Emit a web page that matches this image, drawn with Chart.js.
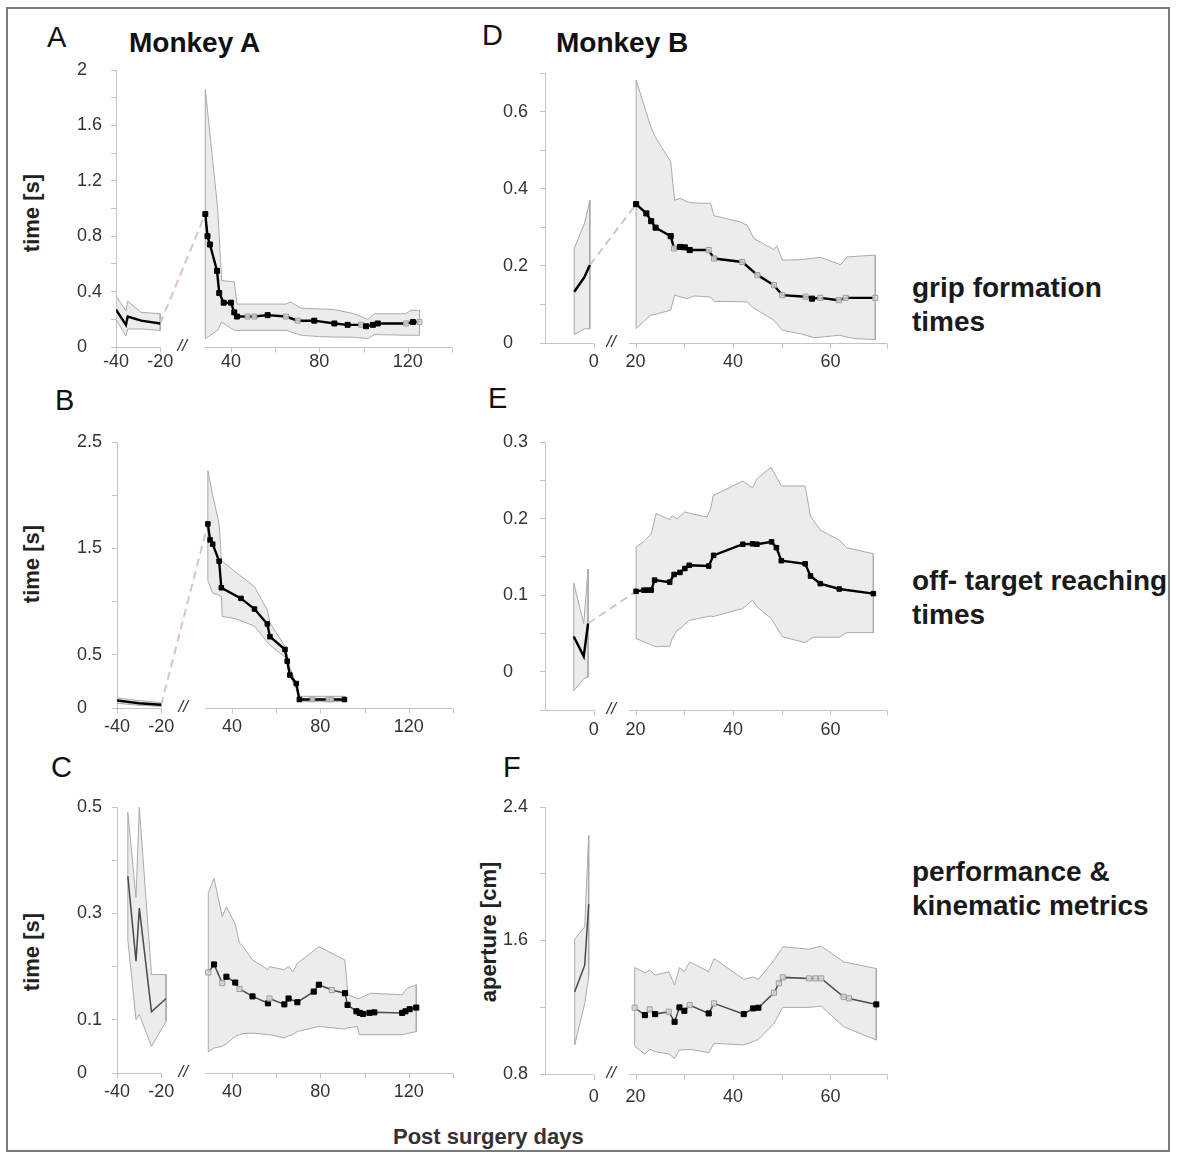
<!DOCTYPE html>
<html>
<head>
<meta charset="utf-8">
<title>Monkey A / Monkey B recovery metrics</title>
<script src="https://cdn.jsdelivr.net/npm/chart.js"></script>
<style>
  html, body { margin: 0; padding: 0; background: #fff; }
  #fig { position: relative; width: 1177px; height: 1156px; overflow: hidden; font-family: "Liberation Sans", Arial, sans-serif; }
  #frame { position: absolute; left: 6px; top: 7px; width: 1160px; height: 1141px; border: 2px solid #7a7a7a; }
  canvas { position: absolute; }
  .txt { position: absolute; white-space: nowrap; line-height: 1; color: #111; }
  .letter { font-size: 29px; }
  .monkey { font-size: 28px; font-weight: bold; }
  .metric { font-size: 28px; font-weight: bold; line-height: 34px; color: #1a1a1a; }
  .ytitle { font-size: 22px; font-weight: bold; color: #222; transform: translate(-50%, -50%) rotate(-90deg); }
  .xtitle { font-size: 22px; font-weight: bold; color: #333; }
</style>
</head>
<body>
<div id="fig">
  <div id="frame"></div>
  <div class="txt letter" style="left:47px; top:23px;">A</div>
  <div class="txt monkey" style="left:129px; top:29px;">Monkey A</div>
  <div class="txt letter" style="left:55px; top:386px;">B</div>
  <div class="txt letter" style="left:51px; top:753px;">C</div>
  <div class="txt letter" style="left:482px; top:21px;">D</div>
  <div class="txt monkey" style="left:556px; top:29px;">Monkey B</div>
  <div class="txt letter" style="left:488px; top:384px;">E</div>
  <div class="txt letter" style="left:503px; top:753px;">F</div>

  <div class="txt metric" style="left:912px; top:271px;">grip formation<br>times</div>
  <div class="txt metric" style="left:912px; top:564px;">off- target reaching<br>times</div>
  <div class="txt metric" style="left:912px; top:855px;">performance &amp;<br>kinematic metrics</div>

  <div class="txt ytitle" style="left:32px; top:213px;">time [s]</div>
  <div class="txt ytitle" style="left:32px; top:564px;">time [s]</div>
  <div class="txt ytitle" style="left:32px; top:952px;">time [s]</div>
  <div class="txt ytitle" style="left:489px; top:932px;">aperture [cm]</div>

  <div class="txt xtitle" style="left:393px; top:1126px;">Post surgery days</div>
</div>

<script>
// ---- axis ticks ----
const monkeyATicks = [-40, -20, 40, 60, 80, 100, 120, 140];
const monkeyALabels = [-40, -20, 40, 80, 120];
const monkeyBTicks = [0, 20, 30, 40, 50, 60, 71.6];
const monkeyBLabels = [0, 20, 40, 60];

const aYTicks = [0, 0.2, 0.4, 0.6, 0.8, 1, 1.2, 1.4, 1.6, 1.8, 2];
const aYLabels = [0, 0.4, 0.8, 1.2, 1.6, 2];
const bYTicks = [0, 0.5, 1, 1.5, 2, 2.5];
const bYLabels = [0, 0.5, 1.5, 2.5];
const cYTicks = [0, 0.1, 0.2, 0.3, 0.4, 0.5];
const cYLabels = [0, 0.1, 0.3, 0.5];
const dYTicks = [0, 0.1, 0.2, 0.3, 0.4, 0.5, 0.6, 0.7];
const dYLabels = [0, 0.2, 0.4, 0.6];
const eYTicks = [-0.05, 0, 0.05, 0.1, 0.15, 0.2, 0.25, 0.3];
const eYLabels = [0, 0.1, 0.2, 0.3];
const fYTicks = [0.8, 1.2, 1.6, 2, 2.4];
const fYLabels = [0.8, 1.6, 2.4];

// ---- A: grip formation times, monkey A ----
const aPreDays = [-40, -35.5, -34.7, -28.6, -20];
const aPreMean = [0.27, 0.16, 0.22, 0.19, 0.17];
const aPreHi = [0.37, 0.26, 0.33, 0.25, 0.24];
const aPreLo = [0.20, 0.08, 0.13, 0.13, 0.12];
const aPostDays = [28.4, 29.4, 30.5, 33.7, 34.7, 36.7, 40, 41.5, 42.7, 47.5, 50.6, 56.6, 64.9, 70.2, 77.7, 86.8, 92.8, 98.9, 101.1, 104.2, 106.4, 119.2, 122.3, 125.3];
const aPostMean = [0.96, 0.80, 0.74, 0.55, 0.39, 0.32, 0.32, 0.25, 0.22, 0.22, 0.22, 0.23, 0.22, 0.19, 0.19, 0.17, 0.16, 0.16, 0.15, 0.16, 0.17, 0.17, 0.18, 0.18];
const aPostSig = [1, 1, 1, 1, 1, 1, 1, 1, 1, 0, 0, 1, 0, 0, 1, 1, 1, 0, 1, 1, 1, 0, 1, 0];
const aBandDays = [28.4, 34.0, 35.8, 41.5, 42.7, 50, 56.6, 64.9, 67, 71.7, 80, 86.8, 95.8, 101.9, 104.9, 119, 121.5, 125.3];
const aBandHi = [1.86, 1.00, 0.48, 0.47, 0.31, 0.31, 0.31, 0.31, 0.325, 0.28, 0.275, 0.27, 0.24, 0.20, 0.24, 0.24, 0.265, 0.265];
const aBandLo = [0.06, 0.12, 0.18, 0.12, 0.12, 0.12, 0.12, 0.12, 0.11, 0.085, 0.075, 0.072, 0.07, 0.06, 0.09, 0.085, 0.085, 0.085];

// ---- B: off-target reaching times, monkey A ----
const bPreDays = [-40, -30, -20];
const bPreMean = [0.07, 0.045, 0.03];
const bPreHi = [0.095, 0.07, 0.05];
const bPreLo = [0.045, 0.025, 0.015];
const bPostDays = [29.1, 30.1, 31.3, 34.2, 35.2, 44.1, 50.2, 56.0, 57.2, 64.0, 65.0, 66.2, 69.1, 70.5, 76.4, 83.6, 85.0, 90.9];
const bPostMean = [1.73, 1.58, 1.54, 1.38, 1.13, 1.03, 0.93, 0.79, 0.67, 0.55, 0.44, 0.31, 0.23, 0.08, 0.08, 0.08, 0.08, 0.08];
const bPostSig = [1, 1, 1, 1, 1, 1, 1, 1, 1, 1, 1, 1, 1, 1, 0, 0, 0, 1];
const bBandDays = [29.1, 31.3, 34.2, 35.2, 35.6, 41.5, 50.2, 56, 57.2, 64, 65, 66.2, 69.1, 70.5, 90.9];
const bBandHi = [2.23, 2.0, 1.73, 1.39, 1.38, 1.28, 1.14, 0.92, 0.80, 0.58, 0.50, 0.38, 0.23, 0.11, 0.11];
const bBandLo = [1.20, 1.08, 1.06, 1.05, 0.86, 0.84, 0.77, 0.62, 0.59, 0.48, 0.42, 0.30, 0.18, 0.06, 0.06];

// ---- C: performance time, monkey A ----
const cPreDays = [-35.1, -31.4, -29.9, -24.4, -17.8];
const cPreMean = [0.37, 0.21, 0.31, 0.115, 0.14];
const cPreHi = [0.49, 0.33, 0.50, 0.185, 0.185];
const cPreLo = [0.25, 0.10, 0.11, 0.05, 0.097];
const cPostDays = [29.3, 31.9, 35.6, 37.5, 41.5, 43.4, 49.3, 56.3, 57.0, 63.7, 65.6, 69.6, 77.0, 79.3, 85.2, 91.1, 92.3, 96.3, 97.8, 99.3, 102.2, 104.4, 117.0, 118.5, 120.4, 123.4];
const cPostMean = [0.189, 0.204, 0.169, 0.181, 0.170, 0.158, 0.144, 0.131, 0.140, 0.129, 0.140, 0.133, 0.153, 0.166, 0.156, 0.150, 0.128, 0.116, 0.113, 0.111, 0.113, 0.114, 0.113, 0.116, 0.120, 0.123];
const cPostSig = [0, 1, 0, 1, 1, 0, 1, 1, 0, 1, 1, 1, 1, 1, 0, 1, 1, 1, 1, 1, 1, 1, 1, 1, 1, 1];
const cBandDays = [29.3, 31.9, 35.6, 37.5, 41.5, 43.4, 45, 49.3, 56.3, 57.0, 63.7, 65.6, 67.5, 69.6, 79.3, 91.1, 92.5, 96.8, 97.5, 102.8, 117.0, 119.2, 123.4];
const cBandHi = [0.338, 0.366, 0.294, 0.3125, 0.28, 0.244, 0.238, 0.2125, 0.194, 0.2, 0.194, 0.201, 0.19, 0.206, 0.2375, 0.2125, 0.147, 0.14, 0.14, 0.15, 0.147, 0.159, 0.166];
const cBandLo = [0.04, 0.047, 0.05, 0.055, 0.069, 0.072, 0.074, 0.075, 0.072, 0.072, 0.066, 0.07, 0.072, 0.078, 0.0875, 0.0825, 0.085, 0.0875, 0.072, 0.072, 0.072, 0.074, 0.078];

// ---- D: grip formation times, monkey B ----
const dPreDays = [-4.0, -1.9, -0.8];
const dPreMean = [0.133, 0.171, 0.202];
const dPreHi = [0.245, 0.31, 0.37];
const dPreLo = [0.022, 0.037, 0.037];
const dPostDays = [20.1, 22.2, 23.2, 24.1, 27.2, 27.9, 29.1, 30.1, 31.1, 35.0, 36.1, 41.9, 45.0, 48.4, 50.1, 54.9, 56.2, 57.9, 61.7, 63.1, 69.2];
const dPostMean = [0.36, 0.336, 0.316, 0.299, 0.277, 0.245, 0.249, 0.248, 0.241, 0.241, 0.219, 0.21, 0.176, 0.15, 0.124, 0.12, 0.115, 0.117, 0.111, 0.117, 0.117];
const dPostSig = [1, 1, 1, 1, 1, 0, 1, 1, 1, 0, 0, 0, 0, 0, 0, 0, 1, 0, 0, 0, 0];
const dBandDays = [20.1, 23.1, 24.0, 27.2, 28.0, 29.1, 30.6, 32.0, 35.4, 36.1, 41.5, 42.9, 44.3, 45.6, 48.4, 49.0, 50.1, 53.8, 56.6, 57.9, 61.7, 62.0, 63.4, 65.5, 69.2];
const dBandHi = [0.682, 0.561, 0.535, 0.47, 0.37, 0.375, 0.366, 0.363, 0.362, 0.33, 0.314, 0.305, 0.27, 0.262, 0.242, 0.252, 0.215, 0.216, 0.22, 0.222, 0.205, 0.202, 0.223, 0.225, 0.228];
const dBandLo = [0.037, 0.072, 0.074, 0.085, 0.124, 0.12, 0.115, 0.122, 0.119, 0.108, 0.107, 0.1065, 0.09, 0.08, 0.059, 0.05, 0.033, 0.024, 0.014, 0.015, 0.02, 0.02, 0.015, 0.011, 0.009];

// ---- E: off-target reaching times, monkey B ----
const ePreDays = [-4.1, -2.05, -1.16];
const ePreMean = [0.046, 0.02, 0.063];
const ePreHi = [0.116, 0.063, 0.134];
const ePreLo = [-0.025, -0.009, -0.007];
const ePostDays = [20.1, 21.7, 22.4, 23.2, 23.9, 27.0, 27.9, 29.1, 30.1, 31.0, 35.0, 36.0, 42.0, 44.0, 44.9, 47.9, 48.9, 49.9, 54.8, 55.9, 57.9, 61.8, 68.8];
const ePostMean = [0.105, 0.1065, 0.1065, 0.1065, 0.1196, 0.117, 0.127, 0.1296, 0.1348, 0.139, 0.138, 0.152, 0.1665, 0.167, 0.1665, 0.1696, 0.162, 0.145, 0.141, 0.125, 0.115, 0.108, 0.102];
const ePostSig = [1, 1, 1, 1, 1, 1, 1, 1, 1, 1, 1, 1, 1, 1, 1, 1, 1, 1, 1, 1, 1, 1, 1];
const eBandDays = [20.1, 21.7, 23.2, 24.2, 27.0, 27.5, 28.5, 29.5, 30.1, 31.0, 34.7, 35.5, 35.9, 42.0, 44.0, 44.9, 47.8, 49.9, 50.1, 54.8, 55.9, 56.6, 57.9, 61.8, 63.3, 68.8];
const eBandHi = [0.163, 0.17, 0.18, 0.2065, 0.1987, 0.204, 0.2, 0.205, 0.2087, 0.207, 0.202, 0.215, 0.23, 0.249, 0.24, 0.252, 0.267, 0.2426, 0.2426, 0.2426, 0.203, 0.197, 0.185, 0.172, 0.162, 0.154];
const eBandLo = [0.0435, 0.039, 0.035, 0.0326, 0.0335, 0.043, 0.054, 0.058, 0.062, 0.067, 0.072, 0.0726, 0.072, 0.0826, 0.0935, 0.085, 0.0696, 0.048, 0.0457, 0.038, 0.043, 0.045, 0.045, 0.045, 0.051, 0.051];

// ---- F: grip aperture, monkey B ----
const fPreDays = [-3.9, -1.85, -1.03];
const fPreMean = [1.293, 1.452, 1.818];
const fPreHi = [1.608, 1.682, 2.23];
const fPreLo = [0.974, 1.223, 1.383];
const fPostDays = [19.8, 21.9, 22.9, 24.0, 26.8, 28.0, 29.0, 30.0, 31.1, 35.0, 36.1, 42.2, 44.1, 45.2, 48.4, 49.4, 50.2, 55.6, 56.9, 58.1, 62.7, 63.8, 69.4];
const fPostMean = [1.197, 1.153, 1.187, 1.159, 1.173, 1.113, 1.199, 1.179, 1.213, 1.163, 1.223, 1.159, 1.193, 1.197, 1.287, 1.343, 1.379, 1.373, 1.373, 1.373, 1.263, 1.253, 1.217];
const fPostSig = [0, 1, 0, 1, 0, 1, 1, 1, 0, 1, 0, 1, 1, 1, 0, 0, 0, 0, 0, 0, 0, 0, 1];
const fBandDays = [19.8, 21.9, 22.9, 24.0, 26.8, 28.0, 29.0, 30.0, 31.1, 35.0, 36.1, 42.2, 44.1, 45.2, 48.4, 50.2, 55.6, 58.1, 62.7, 69.4];
const fBandHi = [1.438, 1.406, 1.422, 1.393, 1.413, 1.333, 1.438, 1.413, 1.472, 1.413, 1.492, 1.367, 1.382, 1.367, 1.482, 1.562, 1.548, 1.566, 1.472, 1.432];
const fBandLo = [0.968, 0.918, 0.948, 0.934, 0.92, 0.894, 0.944, 0.944, 0.948, 0.928, 0.984, 0.974, 0.994, 1.007, 1.103, 1.199, 1.199, 1.207, 1.083, 1.003];

// ---- broken x axis: pre-surgery part, gap, post-surgery part ----
const brkA = { leftMin: -40, leftMax: -20, gap: 20, rightMin: 28, rightMax: 140 };
const brkB = { leftMin: -10, leftMax: 0, gap: 7.2, rightMin: 18.6, rightMax: 71.6 };

function postAxis(d, b) { return b.leftMax + b.gap + (d - b.rightMin); }
function tickAxis(d, b) { return d <= b.leftMax ? d : postAxis(d, b); }

Chart.defaults.font.family = '"Liberation Sans", Arial, sans-serif';
Chart.defaults.font.size = 18;
Chart.defaults.color = '#333';

const AXIS_GRAY = '#c4c4c4';
const PAD_T = 30, PAD_R = 12, X_H = 36;

const brokenAxis = {
    id: 'brokenAxis',
    afterDraw(chart, args, opts) {
        const sx = chart.scales.x;
        const ctx = chart.ctx;
        const b = opts.brk;
        const yAx = Math.round(chart.chartArea.bottom) + 0.5;
        ctx.save();
        ctx.strokeStyle = AXIS_GRAY;
        ctx.lineWidth = 1;
        ctx.beginPath();
        ctx.moveTo(sx.getPixelForValue(b.leftMin), yAx);
        ctx.lineTo(sx.getPixelForValue(b.leftMax), yAx);
        ctx.moveTo(sx.getPixelForValue(postAxis(b.rightMin, b)), yAx);
        ctx.lineTo(sx.getPixelForValue(postAxis(b.rightMax, b)), yAx);
        opts.ticks.forEach(d => {
            const px = Math.round(sx.getPixelForValue(tickAxis(d, b))) + 0.5;
            ctx.moveTo(px, yAx);
            ctx.lineTo(px, yAx + 5);
        });
        ctx.stroke();

        // break mark
        ctx.fillStyle = '#333';
        ctx.font = 'italic 17px "Liberation Sans", Arial, sans-serif';
        ctx.textAlign = 'center';
        ctx.textBaseline = 'middle';
        ctx.fillText('//', sx.getPixelForValue(b.leftMax + b.gap / 2), yAx - 1);
        ctx.restore();
    }
};

function polygon(days, hi, lo, toX) {
    const pts = days.map((d, i) => ({ x: toX(d), y: hi[i] }));
    for (let i = days.length - 1; i >= 0; i--) {
        pts.push({ x: toX(days[i]), y: lo[i] });
    }
    pts.push(pts[0]);
    return pts;
}

function makePanel(p) {
    const fig = document.getElementById('fig');
    const [aL, aT, aR, aB] = p.area;
    const yw = aL - p.labelLeft;
    const b = p.brk;
    const canvas = document.createElement('canvas');
    canvas.width = aR - p.labelLeft + PAD_R;
    canvas.height = aB - aT + PAD_T + X_H;
    canvas.style.left = p.labelLeft + 'px';
    canvas.style.top = (aT - PAD_T) + 'px';
    fig.appendChild(canvas);

    const pre = x => x;
    const post = x => postAxis(x, b);
    const lineColor = p.thin ? '#4a4a4a' : '#000';
    const lineWidth = p.thin ? 1.5 : 2.4;

    const datasets = [
        {
            data: p.postDays.map((d, i) => ({ x: post(d), y: p.postMean[i] })),
            borderColor: lineColor,
            borderWidth: lineWidth,
            pointStyle: 'rect',
            pointRadius: p.markerR,
            pointBorderWidth: 1,
            pointBackgroundColor: p.postSig.map(s => s ? '#000' : 'rgba(218,218,218,0.85)'),
            pointBorderColor: p.postSig.map(s => s ? '#000' : '#9c9c9c'),
            order: 1
        },
        {
            data: p.preDays.map((d, i) => ({ x: pre(d), y: p.preMean[i] })),
            borderColor: lineColor,
            borderWidth: lineWidth,
            pointRadius: 0,
            order: 1
        },
        {
            data: polygon(p.bandDays, p.bandHi, p.bandLo, post),
            borderColor: '#aaaaaa',
            borderWidth: 1,
            backgroundColor: '#ececec',
            fill: 'shape',
            pointRadius: 0,
            order: 3
        },
        {
            data: polygon(p.preDays, p.preHi, p.preLo, pre),
            borderColor: '#aaaaaa',
            borderWidth: 1,
            backgroundColor: '#ececec',
            fill: 'shape',
            pointRadius: 0,
            order: 3
        }
    ];
    if (p.connect) {
        const last = p.preDays.length - 1;
        datasets.push({
            data: [
                { x: pre(p.preDays[last]), y: p.preMean[last] },
                { x: post(p.postDays[0]), y: p.postMean[0] }
            ],
            borderColor: '#dcc3c3',
            borderWidth: 2,
            borderDash: [8, 5],
            pointRadius: 0,
            order: 2
        });
    }

    return new Chart(canvas, {
        type: 'line',
        data: { datasets: datasets },
        plugins: [brokenAxis],
        options: {
            responsive: false,
            animation: false,
            events: [],
            layout: { padding: { top: PAD_T, right: PAD_R, left: 0, bottom: 0 } },
            elements: { line: { tension: 0 } },
            scales: {
                x: {
                    type: 'linear',
                    min: b.leftMin,
                    max: postAxis(b.rightMax, b),
                    afterBuildTicks: s => { s.ticks = p.xTicks.map(d => ({ value: tickAxis(d, b) })); },
                    afterFit: s => { s.height = X_H; },
                    ticks: {
                        autoSkip: false,
                        maxRotation: 0,
                        padding: p.xPad,
                        callback: (v, i) => p.xLabels.includes(p.xTicks[i]) ? String(p.xTicks[i]) : ''
                    },
                    grid: { display: false, drawTicks: false },
                    border: { display: false }
                },
                y: {
                    min: p.yTicks[0],
                    max: p.yTicks[p.yTicks.length - 1],
                    afterBuildTicks: s => { s.ticks = p.yTicks.map(v => ({ value: v })); },
                    afterFit: s => { s.width = yw; },
                    ticks: {
                        autoSkip: false,
                        crossAlign: 'far',
                        padding: yw - 5 - 25,
                        callback: v => {
                            const l = p.yLabels.find(x => Math.abs(x - v) < 1e-9);
                            return l === undefined ? '' : String(l);
                        }
                    },
                    grid: { drawOnChartArea: false, color: AXIS_GRAY, tickLength: 5 },
                    border: { color: AXIS_GRAY }
                }
            },
            plugins: {
                legend: { display: false },
                tooltip: { enabled: false },
                brokenAxis: { brk: b, ticks: p.xTicks }
            }
        }
    });
}

const panels = [
    { labelLeft: 77, area: [116, 70, 452, 347], brk: brkA, xTicks: monkeyATicks, xLabels: monkeyALabels, xPad: 4,
      yTicks: aYTicks, yLabels: aYLabels, markerR: 3.5, connect: true,
      preDays: aPreDays, preMean: aPreMean, preHi: aPreHi, preLo: aPreLo,
      postDays: aPostDays, postMean: aPostMean, postSig: aPostSig,
      bandDays: aBandDays, bandHi: aBandHi, bandLo: aBandLo },
    { labelLeft: 77, area: [117, 442, 453, 708], brk: brkA, xTicks: monkeyATicks, xLabels: monkeyALabels, xPad: 8,
      yTicks: bYTicks, yLabels: bYLabels, markerR: 3.2, connect: true,
      preDays: bPreDays, preMean: bPreMean, preHi: bPreHi, preLo: bPreLo,
      postDays: bPostDays, postMean: bPostMean, postSig: bPostSig,
      bandDays: bBandDays, bandHi: bBandHi, bandLo: bBandLo },
    { labelLeft: 77, area: [117, 807, 453, 1073], brk: brkA, xTicks: monkeyATicks, xLabels: monkeyALabels, xPad: 8,
      yTicks: cYTicks, yLabels: cYLabels, markerR: 3.6, connect: false, thin: true,
      preDays: cPreDays, preMean: cPreMean, preHi: cPreHi, preLo: cPreLo,
      postDays: cPostDays, postMean: cPostMean, postSig: cPostSig,
      bandDays: cBandDays, bandHi: cBandHi, bandLo: cBandLo },
    { labelLeft: 503, area: [545, 73, 887, 343], brk: brkB, xTicks: monkeyBTicks, xLabels: monkeyBLabels, xPad: 8,
      yTicks: dYTicks, yLabels: dYLabels, markerR: 3.6, connect: true,
      preDays: dPreDays, preMean: dPreMean, preHi: dPreHi, preLo: dPreLo,
      postDays: dPostDays, postMean: dPostMean, postSig: dPostSig,
      bandDays: dBandDays, bandHi: dBandHi, bandLo: dBandLo },
    { labelLeft: 503, area: [545, 442, 887, 710], brk: brkB, xTicks: monkeyBTicks, xLabels: monkeyBLabels, xPad: 9,
      yTicks: eYTicks, yLabels: eYLabels, markerR: 3.2, connect: true,
      preDays: ePreDays, preMean: ePreMean, preHi: ePreHi, preLo: ePreLo,
      postDays: ePostDays, postMean: ePostMean, postSig: ePostSig,
      bandDays: eBandDays, bandHi: eBandHi, bandLo: eBandLo },
    { labelLeft: 503, area: [545, 807, 887, 1074], brk: brkB, xTicks: monkeyBTicks, xLabels: monkeyBLabels, xPad: 12,
      yTicks: fYTicks, yLabels: fYLabels, markerR: 3.6, connect: false, thin: true,
      preDays: fPreDays, preMean: fPreMean, preHi: fPreHi, preLo: fPreLo,
      postDays: fPostDays, postMean: fPostMean, postSig: fPostSig,
      bandDays: fBandDays, bandHi: fBandHi, bandLo: fBandLo }
];

panels.forEach(makePanel);
</script>
</body>
</html>
